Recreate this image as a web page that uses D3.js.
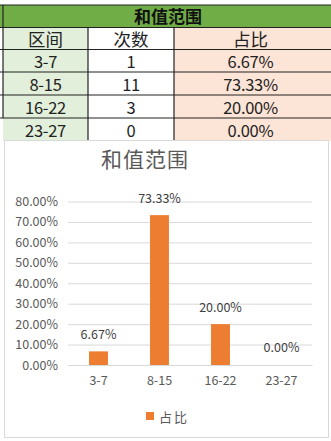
<!DOCTYPE html>
<html>
<head>
<meta charset="utf-8">
<script src="https://cdn.jsdelivr.net/npm/d3@7"></script>
<style>
  body { margin: 0; background: #fff; }
  svg { display: block; font-family: "Noto Sans CJK SC", "Noto Sans", sans-serif; }
</style>
</head>
<body>
<script>
const biaoti = '和值范围'
const biaotou = ['区间', '次数', '占比']
const qujian = ['3-7', '8-15', '16-22', '23-27']
const cishu = [1, 11, 3, 0]
const zhanbi = [0.0667, 0.7333, 0.2, 0]
const yKedu = [0, 0.1, 0.2, 0.3, 0.4, 0.5, 0.6, 0.7, 0.8]

const largura = 331, altura = 441
const svg = d3.select('body').append('svg').attr('width', largura).attr('height', altura)

// ---- tabela ----
const colX = [3, 88, 174, 331]
const rowY = [5, 27.5, 49.5, 72, 95, 118, 141]
const fundo = ['#e2efda', '#ffffff', '#fce4d6']

svg.append('rect').attr('x', 0).attr('y', rowY[0]).attr('width', largura).attr('height', rowY[1] - rowY[0]).attr('fill', '#70ad47')
svg.append('text').attr('x', 168).attr('y', 22.5).attr('text-anchor', 'middle')
  .style('font-size', '17px').style('font-weight', 'bold').attr('fill', '#111').text(biaoti)

const linhas = [biaotou].concat(qujian.map((q, i) => [q, cishu[i], (zhanbi[i] * 100).toFixed(2) + '%']))
linhas.forEach(function (linha, r) {
  linha.forEach(function (v, c) {
    svg.append('rect').attr('x', colX[c]).attr('y', rowY[r + 1])
      .attr('width', colX[c + 1] - colX[c]).attr('height', rowY[r + 2] - rowY[r + 1])
      .attr('fill', fundo[c])
    svg.append('text').attr('x', (colX[c] + colX[c + 1]) / 2 + (c == 2 ? -2 : 0))
      .attr('y', rowY[r + 2] - 4).attr('text-anchor', 'middle')
      .style('font-size', r == 0 ? '17.5px' : '16.5px').attr('fill', '#222')
      .style('letter-spacing', r == 0 ? '0px' : '-0.3px')
      .text(v)
  })
})

const grade = svg.append('g').attr('stroke', '#222').attr('stroke-width', 1.2)
grade.append('line').attr('x1', 0).attr('x2', largura).attr('y1', rowY[0]).attr('y2', rowY[0])
rowY.slice(1, 6).forEach(y => grade.append('line').attr('x1', 0).attr('x2', largura).attr('y1', y).attr('y2', y))
grade.append('line').attr('x1', colX[0]).attr('x2', colX[0]).attr('y1', rowY[0]).attr('y2', 118)
grade.append('line').attr('x1', colX[1]).attr('x2', colX[1]).attr('y1', rowY[1]).attr('y2', 141)
grade.append('line').attr('x1', colX[2]).attr('x2', colX[2]).attr('y1', rowY[1]).attr('y2', 141)

// ---- grafico ----
svg.append('rect').attr('x', 4.5).attr('y', 140.5).attr('width', 324).attr('height', 297)
  .attr('fill', '#fff').attr('stroke', '#d9d9d9')

svg.append('text').attr('x', 145).attr('y', 166.5).attr('text-anchor', 'middle')
  .style('font-size', '21px').attr('fill', '#595959').style('letter-spacing', '1px').text(biaoti)

const y = d3.scaleLinear().domain([0, 0.8]).range([365, 201.5])
const x = d3.scaleBand().domain(qujian).range([68, 312]).paddingInner(0.69).paddingOuter(0.345)

const eixoY = svg.append('g').attr('transform', 'translate(68,0)')
  .call(d3.axisLeft(y).tickValues(yKedu).tickSize(-244).tickPadding(10).tickFormat(d => (d * 100).toFixed(2) + '%'))
eixoY.select('.domain').remove()
eixoY.selectAll('line').attr('stroke', '#d9d9d9')
eixoY.selectAll('text').attr('fill', '#595959').style('font-size', '12.5px')
  .style('font-family', '"Noto Sans CJK SC", sans-serif')

const eixoX = svg.append('g').attr('transform', 'translate(0,365)')
  .call(d3.axisBottom(x).tickSize(0).tickPadding(11))
eixoX.select('.domain').attr('stroke', '#d9d9d9')
eixoX.selectAll('text').attr('fill', '#595959').style('font-size', '12.5px')
  .style('font-family', '"Noto Sans CJK SC", sans-serif')

svg.selectAll('.barra').data(qujian).enter().append('rect')
  .attr('x', d => x(d)).attr('width', x.bandwidth())
  .attr('y', (d, i) => y(zhanbi[i])).attr('height', (d, i) => y(0) - y(zhanbi[i]))
  .attr('fill', '#ed7d31')

svg.selectAll('.rotulo').data(qujian).enter().append('text')
  .attr('x', d => x(d) + x.bandwidth() / 2)
  .attr('y', (d, i) => zhanbi[i] > 0 ? y(zhanbi[i]) - 12.5 : y(0) - 13)
  .attr('text-anchor', 'middle').attr('fill', '#404040').style('font-size', '12.5px')
  .text((d, i) => (zhanbi[i] * 100).toFixed(2) + '%')

// legenda
svg.append('rect').attr('x', 146).attr('y', 412).attr('width', 8).attr('height', 8).attr('fill', '#ed7d31')
svg.append('text').attr('x', 159).attr('y', 421.5).attr('fill', '#595959').style('font-size', '13px')
  .style('letter-spacing', '2px').text(biaotou[2])
</script>
</body>
</html>
